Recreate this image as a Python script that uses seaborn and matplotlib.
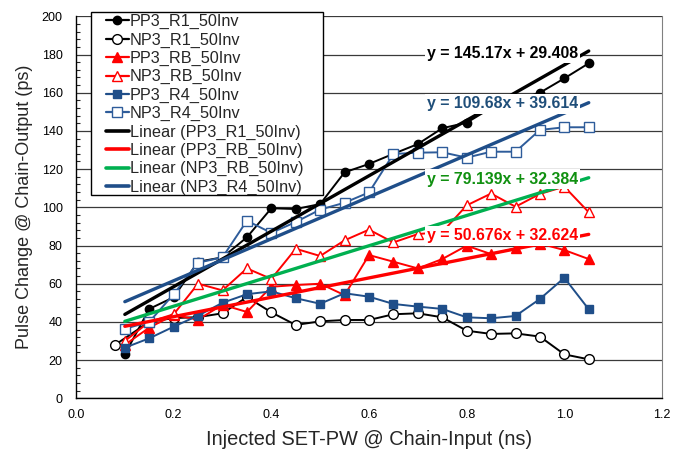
import numpy as np
import pandas as pd
import matplotlib
matplotlib.use("Agg")
import matplotlib.pyplot as plt
import seaborn as sns
from matplotlib.lines import Line2D
from matplotlib.patches import Rectangle
from matplotlib.ticker import MultipleLocator, FormatStrFormatter

# ---------------- data ----------------
x_main = [0.10, 0.15, 0.20, 0.25, 0.30, 0.35, 0.40, 0.45, 0.50, 0.55,
          0.60, 0.65, 0.70, 0.75, 0.80, 0.85, 0.90, 0.95, 1.00, 1.05]
x_np3_r1 = [0.08, 0.15, 0.20, 0.25, 0.30, 0.35, 0.40, 0.45, 0.50, 0.55,
            0.60, 0.65, 0.70, 0.75, 0.80, 0.85, 0.90, 0.95, 1.00, 1.05]

pp3_r1 = [23.0, 46.8, 52.9, 71.5, 73.8, 84.3, 99.5, 99.1, 101.7, 118.3,
          122.7, 128.0, 133.1, 141.4, 144.3, 152.0, 156.0, 160.0, 167.5, 175.4]
np3_r1 = [28.0, 40.0, 42.0, 42.5, 44.5, 53.0, 45.0, 38.4, 40.3, 41.0,
          41.0, 44.0, 44.5, 42.4, 35.4, 33.7, 34.0, 32.3, 23.0, 20.4]
pp3_rb = [28.0, 37.0, 43.6, 41.2, 49.0, 45.2, 58.4, 59.3, 60.0, 54.0,
          75.0, 71.5, 68.0, 72.9, 79.9, 75.5, 78.5, 81.0, 77.6, 72.9]
np3_rb = [30.0, 40.0, 44.0, 60.0, 56.5, 68.0, 62.5, 78.3, 74.5, 82.7,
          88.3, 81.6, 86.0, 87.0, 101.0, 107.2, 100.3, 107.0, 110.8, 97.4]
pp3_r4 = [26.5, 31.4, 37.5, 43.3, 50.0, 54.5, 56.0, 52.4, 49.5, 55.0,
          53.2, 49.4, 48.0, 46.8, 42.4, 41.9, 43.1, 52.0, 63.1, 46.6]
np3_r4 = [36.4, 40.0, 54.5, 71.0, 73.8, 93.0, 86.6, 92.3, 98.8, 102.4,
          107.8, 127.9, 128.6, 128.8, 126.0, 129.1, 129.1, 140.5, 141.9, 141.9]

series_names = ["PP3_R1_50Inv", "NP3_R1_50Inv", "PP3_RB_50Inv",
                "NP3_RB_50Inv", "PP3_R4_50Inv", "NP3_R4_50Inv"]

# linear trend lines (coefficients as printed on the chart)
trend_names = ["Linear (PP3_R1_50Inv)", "Linear (PP3_RB_50Inv)",
               "Linear (NP3_RB_50Inv)", "Linear (NP3_R4_50Inv)"]
trend_slopes = [145.17, 50.676, 79.139, 109.68]
trend_intercepts = [29.408, 32.624, 32.384, 39.614]
trend_labels = ["y = 145.17x + 29.408", "y = 50.676x + 32.624",
                "y = 79.139x + 32.384", "y = 109.68x + 39.614"]
trend_x_range = [0.10, 1.05]

x_ticks = [0.0, 0.2, 0.4, 0.6, 0.8, 1.0, 1.2]
y_ticks = [0, 20, 40, 60, 80, 100, 120, 140, 160, 180, 200]

# ---------------- style ----------------
sns.set_theme(style="white")
plt.rcParams["font.family"] = ["Liberation Sans", "DejaVu Sans"]

BLACK = "#000000"
RED = "#FF0000"
BLUE = "#1F4E89"
BLUE2 = "#2E5C9A"
GREEN = "#00B050"

W, H = 684, 455
fig = plt.figure(figsize=(6.84, 4.55), dpi=100)
ax = fig.add_axes([76 / W, 1 - 398.3 / H, (662 - 76) / W, (398.3 - 16.3) / H])

series = [
    (x_main, pp3_r1, BLACK, "o", BLACK, 6.0),
    (x_np3_r1, np3_r1, BLACK, "o", "white", 7.0),
    (x_main, pp3_rb, RED, "^", RED, 7.0),
    (x_main, np3_rb, RED, "^", "white", 7.5),
    (x_main, pp3_r4, BLUE, "s", BLUE, 6.0),
    (x_main, np3_r4, BLUE2, "s", "white", 6.5),
]

handles = []
for (xs, ys, col, mk, fc, ms), name in zip(series, series_names):
    df = pd.DataFrame({"x": xs, "y": ys})
    sns.lineplot(data=df, x="x", y="y", ax=ax, color=col, lw=1.4,
                 marker=mk, markersize=ms, markerfacecolor=fc,
                 markeredgecolor=col, markeredgewidth=1.0, sort=False,
                 legend=False, zorder=3)
    handles.append(Line2D([], [], color=col, lw=1.6, marker=mk, markersize=ms,
                          markerfacecolor=fc, markeredgecolor=col,
                          markeredgewidth=1.0))

trend_colors = [BLACK, RED, GREEN, BLUE]
for name, m, b, col in zip(trend_names, trend_slopes, trend_intercepts, trend_colors):
    tx = np.array(trend_x_range)
    df = pd.DataFrame({"x": tx, "y": m * tx + b})
    sns.lineplot(data=df, x="x", y="y", ax=ax, color=col, lw=2.4,
                 legend=False, zorder=4)
    handles.append(Line2D([], [], color=col, lw=2.6))

# equation labels
label_pos = [(0.874, 180.6), (0.874, 85.0), (0.874, 114.8), (0.874, 154.1)]
label_colors = [BLACK, RED, "#109010", "#1F4E79"]
for txt, (lx, ly), col in zip(trend_labels, label_pos, label_colors):
    ax.text(lx, ly, txt, color=col, fontsize=11.4, fontweight="bold",
            ha="center", va="center", zorder=6,
            bbox=dict(facecolor="white", edgecolor="none", pad=1.5))

# axes
ax.set_xlim(0, 1.2)
ax.set_ylim(0, 200)
ax.set_xticks(x_ticks)
ax.set_yticks(y_ticks)
ax.xaxis.set_major_formatter(FormatStrFormatter("%.1f"))
ax.yaxis.set_minor_locator(MultipleLocator(4))
ax.tick_params(axis="both", which="major", labelsize=9, colors="#000000",
               direction="out", length=4, width=1, pad=4)
ax.tick_params(axis="y", which="major", pad=5.5)
ax.tick_params(axis="y", which="minor", direction="in", length=3, width=0.8,
               left=True)
ax.yaxis.grid(True, color="#3a3a3a", lw=0.9, zorder=0)
ax.set_axisbelow(True)
for s in ["left", "bottom"]:
    ax.spines[s].set_color("#000000")
    ax.spines[s].set_linewidth(1.0)
ax.spines["top"].set_visible(False)
ax.spines["right"].set_color("#808080")
ax.spines["right"].set_linewidth(0.8)

ax.set_xlabel("Injected SET-PW @ Chain-Input (ns)", fontsize=14.4, labelpad=6)
ax.set_ylabel("Pulse Change @ Chain-Output (ps)", fontsize=13, labelpad=6)

# legend frame (fixed box as in the reference) + legend entries
frame = Rectangle((90.7 / W, 1 - 195 / H), (323 - 90.7) / W, (195 - 11.7) / H,
                  transform=fig.transFigure, facecolor="white",
                  edgecolor="#000000", lw=1.0, clip_on=False, zorder=9)
ax.add_patch(frame)
leg = ax.legend(handles, series_names + trend_names, loc="upper left",
                bbox_to_anchor=(106 / W, 1 - 14.1 / H),
                bbox_transform=fig.transFigure, borderaxespad=0,
                fontsize=11.7, frameon=False, handlelength=1.4,
                handletextpad=0.08, labelspacing=0.2, borderpad=0,
                numpoints=1)
leg.set_zorder(10)

fig.savefig("out.png", dpi=100)
